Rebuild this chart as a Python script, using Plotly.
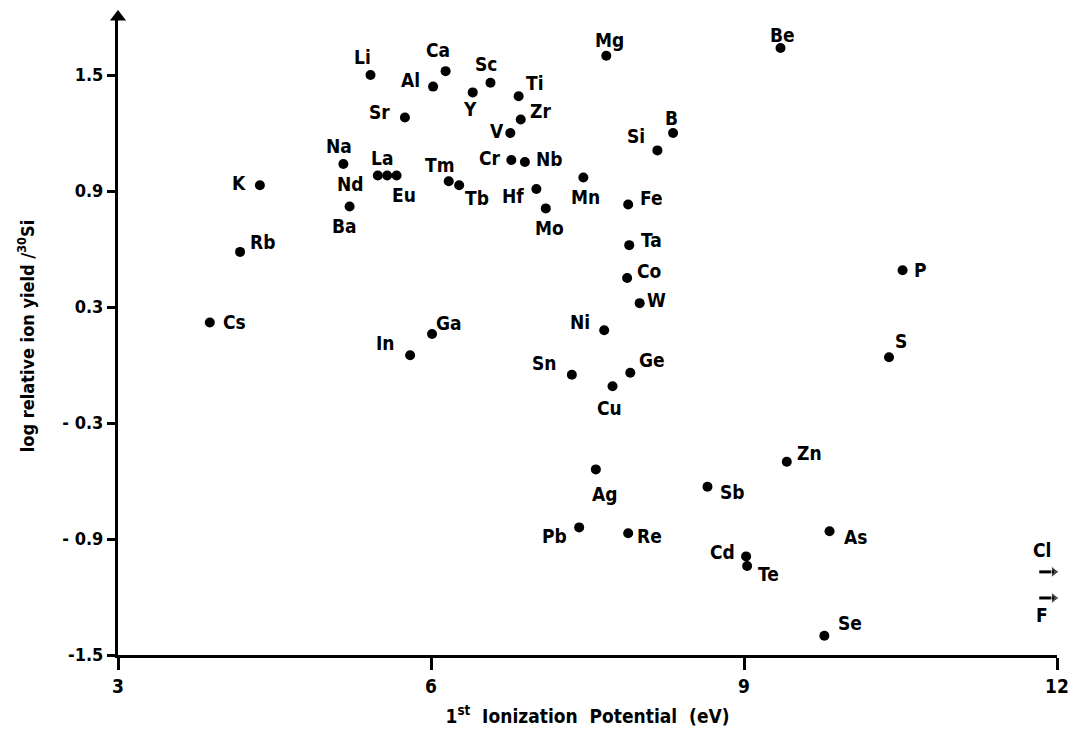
import plotly.graph_objects as go

# ---- data ----
elements = ["Li", "Ca", "Al", "Sc", "Y", "Ti", "Zr", "V", "Sr", "Mg", "Be", "B", "Si",
            "Na", "Nd", "La", "Eu", "Tm", "Tb", "Cr", "Nb", "Hf", "Mn", "Mo", "Fe", "Ba",
            "K", "Rb", "Ta", "Co", "W", "P", "Cs", "Ga", "In", "Ni", "S", "Sn", "Ge", "Cu",
            "Zn", "Ag", "Sb", "Pb", "Re", "As", "Cd", "Te", "Se"]
ion_potential = [5.42, 6.14, 6.02, 6.57, 6.40, 6.84, 6.86, 6.76, 5.75, 7.68, 9.35, 8.32, 8.17,
                 5.16, 5.49, 5.58, 5.67, 6.17, 6.27, 6.77, 6.90, 7.01, 7.46, 7.10, 7.89, 5.22,
                 4.36, 4.17, 7.90, 7.88, 8.00, 10.52, 3.88, 6.01, 5.80, 7.66, 10.39, 7.35, 7.91, 7.74,
                 9.41, 7.58, 8.65, 7.42, 7.89, 9.82, 9.02, 9.03, 9.77]
log_yield = [1.50, 1.52, 1.44, 1.46, 1.41, 1.39, 1.27, 1.20, 1.28, 1.60, 1.64, 1.20, 1.11,
             1.04, 0.98, 0.98, 0.98, 0.95, 0.93, 1.06, 1.05, 0.91, 0.97, 0.81, 0.83, 0.82,
             0.93, 0.585, 0.62, 0.45, 0.32, 0.49, 0.22, 0.16, 0.05, 0.18, 0.04, -0.05, -0.04, -0.11,
             -0.50, -0.54, -0.63, -0.84, -0.87, -0.86, -0.99, -1.04, -1.40]

# off-scale elements (shown with right-pointing arrows at the right edge)
offscale_elements = ["Cl", "F"]
offscale_x_start = [11.83, 11.83]
offscale_x_end = [11.97, 11.97]
offscale_y = [-1.07, -1.205]

y_ticks = [-1.5, -0.9, -0.3, 0.3, 0.9, 1.5]
y_ticktext = ["-1.5", "- 0.9", "- 0.3", "0.3", "0.9", "1.5"]
x_ticks = [3, 6, 9, 12]
x_ticktext = ["3", "6", "9", "12"]
y_top = 1.8

# ---- label offsets (pixels, dx right, dy down) ----
label_offsets = {
    "Li": (-8, -18), "Ca": (-8, -21), "Al": (-23, -7), "Sc": (-4, -19), "Y": (-3, 17),
    "Ti": (16, -13), "Zr": (20, -8), "V": (-13, -2), "Sr": (-25, -6), "Mg": (3, -16),
    "Be": (2, -13), "B": (-2, -15), "Si": (-21, -14), "Na": (-4, -18), "Nd": (-27, 8),
    "La": (-5, -18), "Eu": (7, 19), "Tm": (-9, -16), "Tb": (18, 13), "Cr": (-21, -2),
    "Nb": (25, -3), "Hf": (-23, 7), "Mn": (2, 20), "Mo": (4, 20), "Fe": (23, -7),
    "Ba": (-5, 20), "K": (-21, -2), "Rb": (22, -10), "Ta": (22, -5), "Co": (22, -7),
    "W": (17, -3), "P": (18, 0), "Cs": (25, 0), "Ga": (17, -11), "In": (-25, -12),
    "Ni": (-24, -8), "S": (12, -16), "Sn": (-28, -12), "Ge": (22, -13), "Cu": (-3, 22),
    "Zn": (23, -9), "Ag": (9, 25), "Sb": (25, 5), "Pb": (-25, 9), "Re": (21, 3),
    "As": (26, 6), "Cd": (-24, -4), "Te": (21, 8), "Se": (26, -13),
}
offscale_label_offsets = {"Cl": (-12, -22), "F": (-12, 17)}

FONT = "Liberation Sans Narrow, Arial Narrow, DejaVu Sans Condensed, DejaVu Sans, sans-serif"

fig = go.Figure()
fig.add_trace(go.Scatter(
    x=ion_potential, y=log_yield, mode="markers",
    marker=dict(size=10, color="black"), hoverinfo="text", hovertext=elements,
    showlegend=False, cliponaxis=False,
))

annotations = []
for el, xv, yv in zip(elements, ion_potential, log_yield):
    dx, dy = label_offsets[el]
    annotations.append(dict(
        x=xv, y=yv, xref="x", yref="y", text="<b>%s</b>" % el, showarrow=False,
        xshift=dx, yshift=-dy, font=dict(size=19, color="black", family=FONT),
        xanchor="center", yanchor="middle",
    ))

for el, x0, x1, yv in zip(offscale_elements, offscale_x_start, offscale_x_end, offscale_y):
    fig.add_trace(go.Scatter(
        x=[x0, x1], y=[yv, yv], mode="lines+markers",
        line=dict(color="black", width=3),
        marker=dict(symbol=["circle", "triangle-right"], size=[0, 10], color="black"),
        hoverinfo="skip", showlegend=False, cliponaxis=False,
    ))
    dx, dy = offscale_label_offsets[el]
    annotations.append(dict(
        x=x1, y=yv, xref="x", yref="y", text="<b>%s</b>" % el, showarrow=False,
        xshift=dx, yshift=-dy, font=dict(size=19, color="black", family=FONT),
        xanchor="center", yanchor="middle",
    ))

# upward arrow head at top of y axis
fig.add_trace(go.Scatter(
    x=[x_ticks[0]], y=[y_top], mode="markers",
    marker=dict(symbol="triangle-up", size=14, color="black"),
    hoverinfo="skip", showlegend=False, cliponaxis=False,
))

fig.update_layout(
    width=1081, height=745,
    margin=dict(l=118, r=16, t=17, b=90),
    paper_bgcolor="white", plot_bgcolor="white",
    font=dict(family=FONT, color="black", size=18),
    annotations=annotations,
    xaxis=dict(
        range=[3, 12], tickvals=x_ticks, ticktext=["<b>%s</b>" % t for t in x_ticktext],
        showgrid=False, zeroline=False, showline=True, linecolor="black", linewidth=3,
        ticks="outside", ticklen=12, tickwidth=3, tickcolor="black",
        tickfont=dict(size=19, family=FONT),
        title=dict(text="<b>1<sup>st</sup>  Ionization  Potential  (eV)</b>",
                   font=dict(size=19, family=FONT), standoff=14),
    ),
    yaxis=dict(
        range=[-1.5, y_top], tickvals=y_ticks, ticktext=["<b>%s</b>" % t for t in y_ticktext],
        showgrid=False, zeroline=False, showline=True, linecolor="black", linewidth=3,
        ticks="outside", ticklen=8, tickwidth=3, tickcolor="black",
        tickfont=dict(size=18, family=FONT),
        title=dict(text="<b>log relative ion yield /<sup>30</sup>Si</b>",
                   font=dict(size=18, family=FONT), standoff=24),
    ),
)

fig.write_html("out.html")
